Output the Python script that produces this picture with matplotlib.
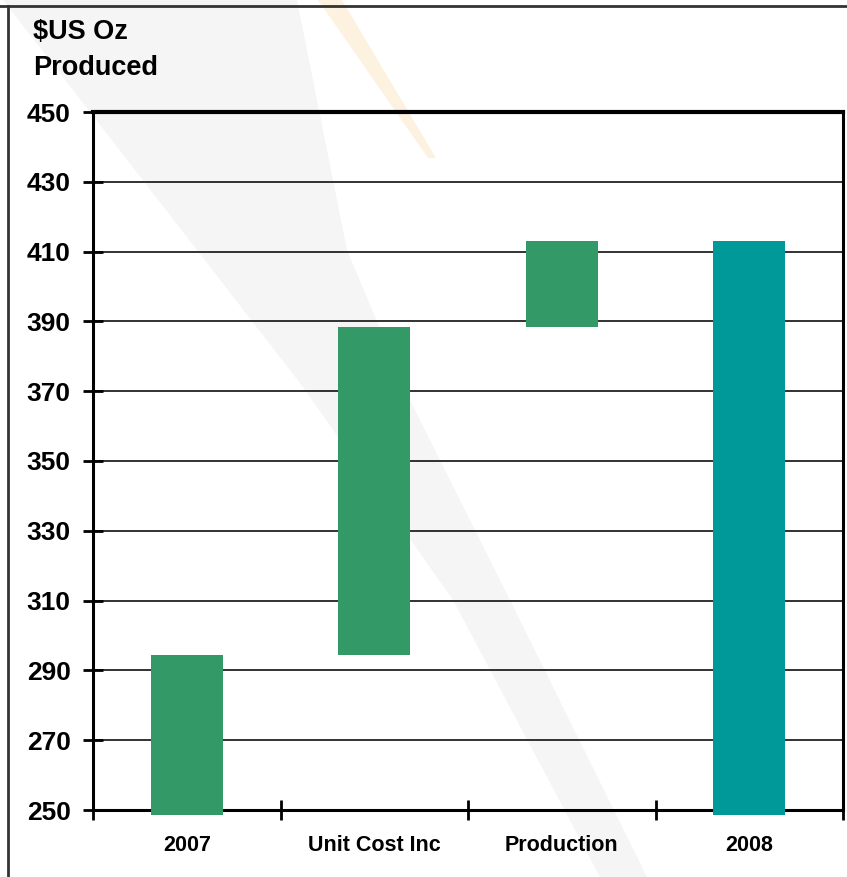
import matplotlib
matplotlib.use('Agg')
import matplotlib.pyplot as plt
from matplotlib.patches import Polygon
from matplotlib.lines import Line2D

# waterfall: cost per ounce, 2007 -> 2008
categories = ['2007', 'Unit Cost Inc', 'Production', '2008']
start_2007 = 294.3
unit_cost_inc = 94.1
production = 24.6
end_2008 = 413.0

plt.rcParams['font.family'] = ['Liberation Sans', 'DejaVu Sans']
plt.rcParams['font.weight'] = 'bold'

W, H = 847, 877
fig = plt.figure(figsize=(W / 100, H / 100), dpi=100)
fig.patch.set_facecolor('white')

def px(x, y):
    # pixel position (from top-left) to figure fraction
    return (x / W, 1 - y / H)

# faint backdrop swoosh
gray = [(3, 0), (90, 112), (300, 383), (453, 600), (600, 877),
        (647, 877), (510, 600), (410, 400), (347, 250), (297, 0)]
fig.patches.append(Polygon([px(*p) for p in gray], closed=True, transform=fig.transFigure,
                           facecolor='#f5f5f5', edgecolor='none', zorder=-5))
orange = [(318, 0), (342, 0), (436, 158), (428, 158)]
fig.patches.append(Polygon([px(*p) for p in orange], closed=True, transform=fig.transFigure,
                           facecolor='#fbd9a8', edgecolor='none', alpha=0.35, zorder=-4))

# slide frame
fig.add_artist(Line2D([0, 1], [1 - 6 / H] * 2, transform=fig.transFigure, color='#333333', lw=2))
fig.add_artist(Line2D([8 / W] * 2, [0, 1 - 6 / H], transform=fig.transFigure, color='#333333', lw=2))

ax = fig.add_axes([93 / W, 1 - 810 / H, (843 - 93) / W, (810 - 112) / H])
ax.patch.set_alpha(0)

ymin, ymax = 250, 450
base = ymin - 1.4  # bars run just past the axis line

x = range(len(categories))
bottoms = [base, start_2007, start_2007 + unit_cost_inc, base]
tops = [start_2007, start_2007 + unit_cost_inc, start_2007 + unit_cost_inc + production, end_2008]
heights = [t - b for t, b in zip(tops, bottoms)]
colors = ['#339966', '#339966', '#339966', '#009999']

ax.bar(x, heights, bottom=bottoms, width=0.385, color=colors, zorder=3, clip_on=False)

ax.set_xlim(-0.5, 3.5)
ax.set_ylim(ymin, ymax)
ax.set_yticks(range(250, 451, 20))
ax.yaxis.grid(True, color='#222222', lw=1.3, zorder=1)
ax.set_axisbelow(True)

ax.set_xticks([-0.5, 0.5, 1.5, 2.5, 3.5])
ax.set_xticklabels([])
ax.set_xticks(list(x), minor=True)
ax.set_xticklabels(categories, minor=True, fontsize=15.5, fontweight='bold')
ax.tick_params(axis='x', which='major', direction='inout', length=14, width=2)
ax.tick_params(axis='x', which='minor', length=0, pad=18)
ax.tick_params(axis='y', direction='inout', length=14, width=2, labelsize=19, pad=9)
for lbl in ax.get_yticklabels():
    lbl.set_fontweight('bold')

for side in ['left', 'bottom', 'right']:
    ax.spines[side].set_linewidth(2.2)
ax.spines['top'].set_linewidth(3)

fig.text(33 / W, 1 - 32 / H, '$US Oz', fontsize=19.5, fontweight='bold', va='center', ha='left')
fig.text(33 / W, 1 - 68 / H, 'Produced', fontsize=19.5, fontweight='bold', va='center', ha='left')

fig.savefig('out.png', dpi=100)
